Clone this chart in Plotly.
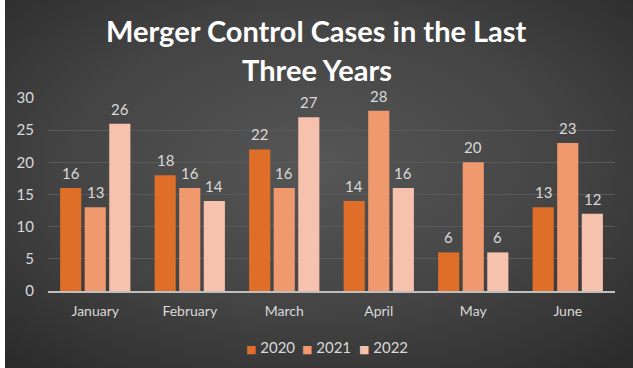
import base64
import plotly.graph_objects as go

months = ["January", "February", "March", "April", "May", "June"]
series_names = ["2020", "2021", "2022"]
values_2020 = [16, 18, 22, 14, 6, 13]
values_2021 = [13, 16, 16, 28, 20, 23]
values_2022 = [26, 14, 27, 16, 6, 12]
y_ticks = [0, 5, 10, 15, 20, 25, 30]
title_lines = ["Merger Control Cases in the Last", "Three Years"]

colors = ["#DE6E28", "#F0986E", "#F6C2AE"]
W, H = 633, 368
FONT = "Lato"
TXT = "#D9D9D9"
X0, X1 = 48, 615
BARGAP = 0.22

svg = f'''<svg xmlns="http://www.w3.org/2000/svg" width="{W}" height="{H}" viewBox="0 0 {W} {H}" preserveAspectRatio="none">
<defs><radialGradient id="g" cx="0.5" cy="0.45" r="0.72">
<stop offset="0" stop-color="#565656"/><stop offset="0.55" stop-color="#444444"/><stop offset="1" stop-color="#2b2b2b"/>
</radialGradient></defs>
<rect width="{W}" height="{H}" fill="url(#g)"/>
<rect width="5" height="{H}" fill="#ffffff"/>
</svg>'''
bg_uri = "data:image/svg+xml;base64," + base64.b64encode(svg.encode()).decode()

all_values = [values_2020, values_2021, values_2022]

fig = go.Figure()
for name, vals, col in zip(series_names, all_values, colors):
    fig.add_trace(go.Bar(
        x=months, y=vals, name=name, marker=dict(color=col, line=dict(width=0)),
        showlegend=False,
    ))

annotations = []
for i, line in enumerate(title_lines):
    ypix = 30 + i * 39
    annotations.append(dict(
        text=f"<b>{line}</b>", x=0.5, y=(H - ypix) / H, xref="paper", yref="paper",
        xanchor="center", yanchor="middle", showarrow=False,
        font=dict(family=FONT, size=29, color="#FFFFFF"),
    ))

# data labels above each bar (offset within the group follows the bar layout)
slot_px = (X1 - X0) / len(months) * (1 - BARGAP) / len(series_names)
for si, vals in enumerate(all_values):
    for m, v in zip(months, vals):
        annotations.append(dict(
            text=str(v), x=m, y=v, xref="x", yref="y",
            xanchor="center", yanchor="middle", showarrow=False,
            xshift=(si - (len(series_names) - 1) / 2) * slot_px, yshift=15,
            font=dict(family=FONT, size=15, color=TXT),
        ))

# legend row (colored square + series name)
legend_x = [244, 300, 357]
for name, col, lx in zip(series_names, colors, legend_x):
    annotations.append(dict(
        text=f"<span style='color:{col};font-family:DejaVu Sans;font-size:11px'>■</span> {name}",
        x=lx / W, y=(H - 347) / H, xref="paper", yref="paper",
        xanchor="left", yanchor="middle", showarrow=False,
        font=dict(family=FONT, size=15, color=TXT),
    ))

fig.update_layout(
    width=W, height=H,
    margin=dict(l=0, r=0, t=0, b=0, autoexpand=False),
    paper_bgcolor="#3f3f3f", plot_bgcolor="rgba(0,0,0,0)",
    images=[dict(source=bg_uri, xref="paper", yref="paper", x=0, y=1,
                 sizex=1, sizey=1, xanchor="left", yanchor="top",
                 sizing="stretch", layer="below")],
    barmode="group", bargap=BARGAP, bargroupgap=0.14,
    showlegend=False,
    annotations=annotations,
    xaxis=dict(domain=[X0 / W, X1 / W], showgrid=False, showline=True,
               linecolor="#BFBFBF", linewidth=2, ticks="", zeroline=False,
               tickfont=dict(family=FONT, size=14, color=TXT), ticklabelstandoff=6),
    yaxis=dict(domain=[(H - 291) / H, (H - 98) / H], range=[0, 30], tickvals=y_ticks,
               showgrid=True, gridcolor="#5a5a5a", gridwidth=1, zeroline=False,
               showline=False, ticks="", ticklabelstandoff=13,
               tickfont=dict(family=FONT, size=15, color=TXT)),
)

fig.write_html("out.html", config={"displayModeBar": False},
               post_script="document.body.style.margin='0';document.body.style.padding='0';document.body.style.overflow='hidden';")
